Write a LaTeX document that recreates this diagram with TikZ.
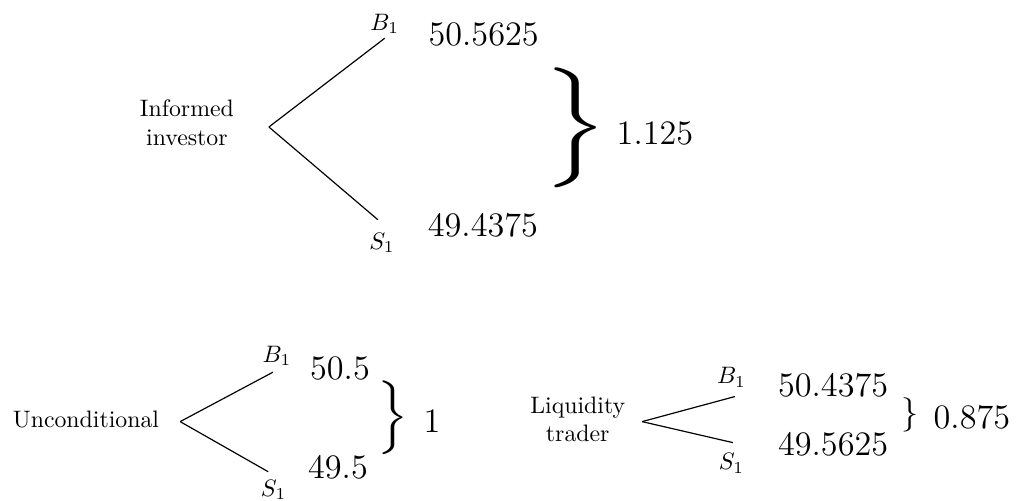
\documentclass[tikz,border=0pt]{standalone}
\usepackage{amsmath}
\usepackage{graphicx}
\usetikzlibrary{positioning}

% brace stretched to a given width and height
\newcommand{\closebrace}[2]{\resizebox{#1}{#2}{$\Big\}$}}

\begin{document}
\begin{tikzpicture}[
    lbl/.style={align=center},
    val/.style={font=\Large},
    brc/.style={inner sep=0pt},
    branch/.style={draw, line width=0.5pt}
  ]
  \useasboundingbox (0,0) rectangle (15.03,7.395);
  % informed investor
  \node[lbl] (inf) at (2.76,5.58) {Informed\\investor};
  \coordinate (infroot) at (3.97,5.52);
  \coordinate (infbuy) at (5.68,6.83);
  \coordinate (infsell) at (5.58,4.15);
  \node (infB) at (5.68,7.04) {$B_1$};
  \node (infS) at (5.64,3.81) {$S_1$};
  \node[val] (infhi) at (7.14,6.89) {50.5625};
  \node[val] (inflo) at (7.13,4.07) {49.4375};
  \node[brc] (infbr) at (8.50,5.51) {\closebrace{27pt}{32.2pt}};
  \node[val] (infsp) at (9.67,5.43) {1.125};
  \draw[branch] (infroot) -- (infbuy);
  \draw[branch] (infroot) -- (infsell);
  % unconditional
  \node[lbl] (unc) at (1.27,1.20) {Unconditional};
  \coordinate (uncroot) at (2.66,1.17);
  \coordinate (uncbuy) at (4.03,1.90);
  \coordinate (uncsell) at (3.96,0.43);
  \node (uncB) at (4.09,2.14) {$B_1$};
  \node (uncS) at (4.04,0.16) {$S_1$};
  \node[val] (unchi) at (5.02,1.96) {50.5};
  \node[val] (unclo) at (4.99,0.50) {49.5};
  \node[brc] (uncbr) at (5.80,1.225) {\closebrace{13pt}{19.8pt}};
  \node[val] (uncsp) at (6.38,1.18) {1};
  \draw[branch] (uncroot) -- (uncbuy);
  \draw[branch] (uncroot) -- (uncsell);
  % liquidity trader
  \node[lbl] (liq) at (8.53,1.20) {Liquidity\\trader};
  \coordinate (liqroot) at (9.48,1.17);
  \coordinate (liqbuy) at (10.85,1.54);
  \coordinate (liqsell) at (10.82,0.86);
  \node (liqB) at (10.80,1.82) {$B_1$};
  \node (liqS) at (10.80,0.55) {$S_1$};
  \node[val] (liqhi) at (12.30,1.70) {50.4375};
  \node[val] (liqlo) at (12.30,0.83) {49.5625};
  \node[brc, font=\Large] (liqbr) at (13.43,1.27) {$\}$};
  \node[val] (liqsp) at (14.35,1.24) {0.875};
  \draw[branch] (liqroot) -- (liqbuy);
  \draw[branch] (liqroot) -- (liqsell);
\end{tikzpicture}
\end{document}
